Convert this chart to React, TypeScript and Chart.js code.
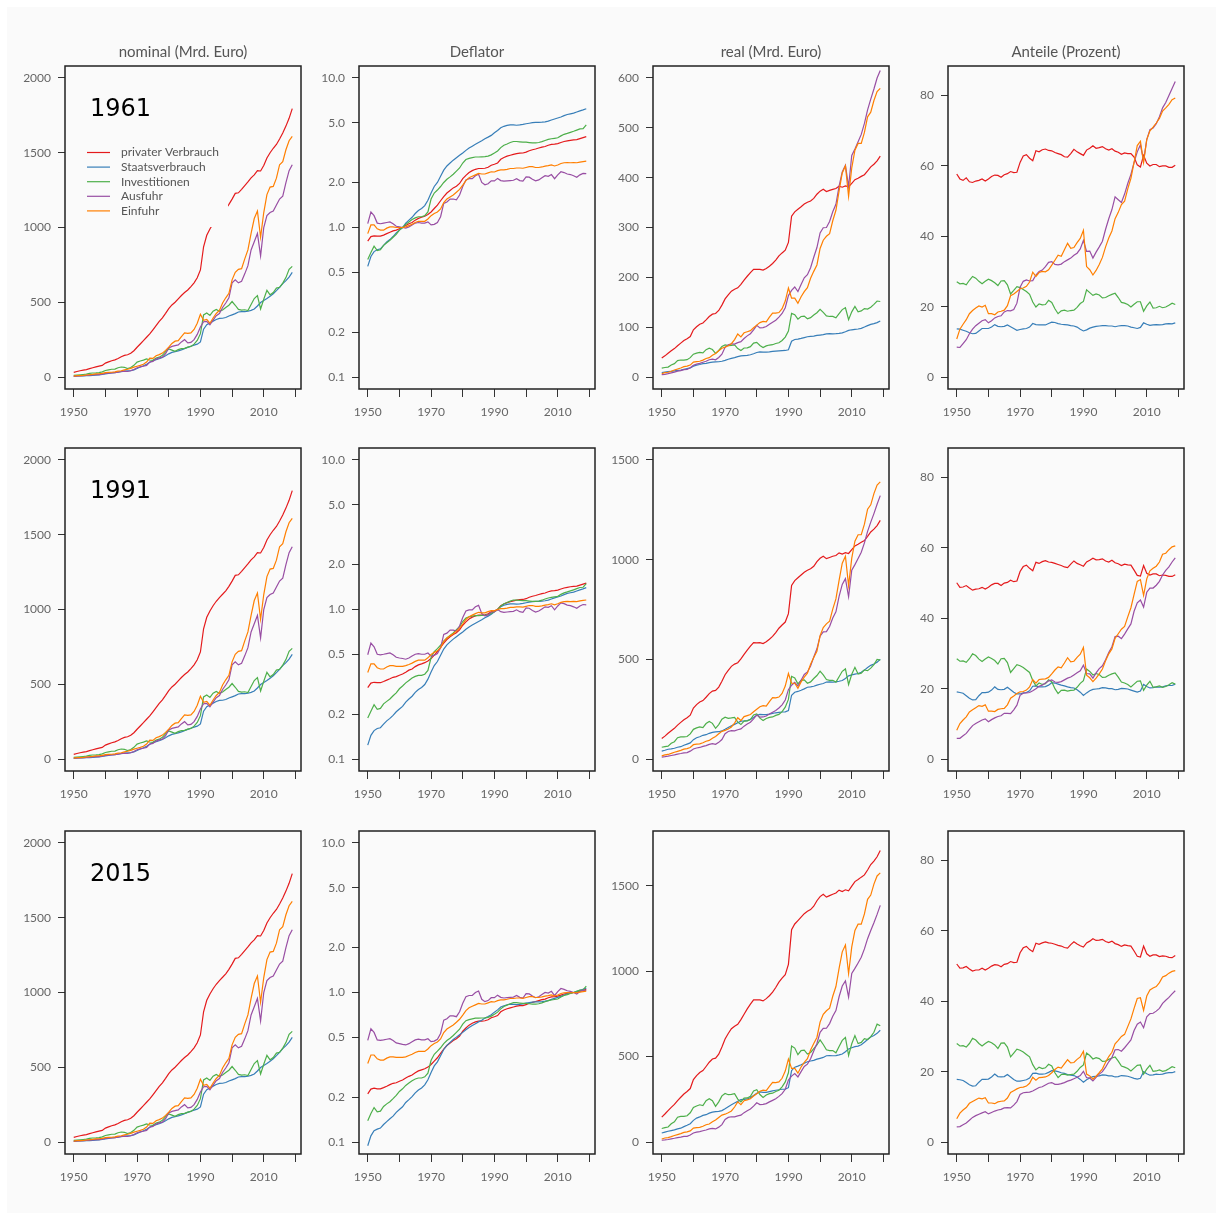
import React, { useEffect, useRef } from "react";
import { Chart, registerables } from "chart.js";

Chart.register(...registerables);

// ---------------- categories / labels ----------------
const YEARS = [
  1950, 1951, 1952, 1953, 1954, 1955, 1956, 1957, 1958, 1959,
  1960, 1961, 1962, 1963, 1964, 1965, 1966, 1967, 1968, 1969,
  1970, 1971, 1972, 1973, 1974, 1975, 1976, 1977, 1978, 1979,
  1980, 1981, 1982, 1983, 1984, 1985, 1986, 1987, 1988, 1989,
  1990, 1991, 1992, 1993, 1994, 1995, 1996, 1997, 1998, 1999,
  2000, 2001, 2002, 2003, 2004, 2005, 2006, 2007, 2008, 2009,
  2010, 2011, 2012, 2013, 2014, 2015, 2016, 2017, 2018, 2019,
];
const SERIES_NAMES = ["privater Verbrauch", "Staatsverbrauch", "Investitionen", "Ausfuhr", "Einfuhr"];
const COL_TITLES = ["nominal (Mrd. Euro)", "Deflator", "real (Mrd. Euro)", "Anteile (Prozent)"];
const BASE_YEARS = ["1961", "1991", "2015"];
const X_TICKS = [1950, 1960, 1970, 1980, 1990, 2000, 2010, 2020];
const X_TICK_LABELS = [1950, 1970, 1990, 2010];
const TICKS_NOMINAL = [0, 500, 1000, 1500, 2000];
const TICKS_DEFLATOR = [0.1, 0.2, 0.5, 1, 2, 5, 10];
const TICKS_REAL_1961 = [0, 100, 200, 300, 400, 500, 600];
const TICKS_REAL_1991 = [0, 500, 1000, 1500];
const TICKS_REAL_2015 = [0, 500, 1000, 1500];
const TICKS_SHARE = [0, 20, 40, 60, 80];

// ---------------- nominal (Mrd. Euro) ----------------
const NOM_PRIV = [
  31, 37, 42, 46, 50, 56, 62, 68, 73, 78,
  93, 101, 109, 115, 124, 136, 145, 149, 159, 176,
  199, 221, 243, 266, 288, 316, 344, 372, 396, 426,
  458, 482, 500, 523, 545, 565, 582, 605, 630, 664,
  716, 871, 948, 990, 1025, 1055, 1080, 1102, 1125, 1155,
  1190, 1228, 1232, 1255, 1280, 1305, 1332, 1352, 1380, 1378,
  1415, 1465, 1500, 1530, 1555, 1592, 1632, 1678, 1730, 1795,
];
const NOM_STAAT = [
  5, 6.4, 7.5, 8.2, 8.8, 10, 11.2, 12.8, 14.6, 16.8,
  21, 24, 27, 30, 32, 36, 39, 41, 43, 48,
  57, 67, 75, 86, 99, 110, 116, 122, 131, 142,
  155, 165, 170, 175, 182, 190, 198, 206, 213, 220,
  235, 320, 350, 362, 374, 385, 392, 393, 398, 408,
  416, 424, 435, 438, 437, 440, 446, 455, 475, 498,
  512, 525, 540, 557, 578, 600, 625, 645, 668, 700,
];
const NOM_INV = [
  11, 13, 15, 17, 19, 25, 27, 28, 30, 35,
  44, 48, 52, 53, 62, 67, 65, 56, 64, 78,
  100, 107, 113, 121, 114, 112, 127, 133, 145, 170,
  188, 180, 172, 183, 190, 192, 200, 205, 220, 245,
  290, 415, 428, 412, 440, 452, 440, 448, 465, 480,
  505, 480, 452, 447, 450, 445, 485, 525, 545, 455,
  520, 580, 550, 565, 595, 600, 628, 665, 720, 740,
];
const NOM_AUS = [
  5, 7, 8, 9, 10.5, 12.5, 14, 16, 16, 19,
  24, 26, 27, 30, 33, 37, 39, 37, 42, 50,
  62, 68, 72, 78, 100, 105, 120, 128, 133, 156,
  195, 205, 210, 215, 235, 250, 228, 232, 250, 285,
  335, 370, 372, 350, 380, 410, 425, 465, 495, 530,
  630, 650, 630, 640, 690, 745, 850, 905, 960, 810,
  1000, 1080, 1100, 1110, 1150, 1190, 1210, 1300, 1380, 1420,
];
const NOM_EIN = [
  6, 9, 10, 11.5, 13.5, 15.5, 18, 21, 22, 24,
  30, 31, 32, 35, 39, 42, 48, 52, 58, 66,
  72, 78, 85, 100, 127, 125, 142, 150, 160, 178,
  200, 225, 240, 243, 270, 295, 292, 295, 318, 360,
  420, 380, 385, 360, 395, 425, 445, 495, 530, 560,
  650, 700, 720, 725, 790, 850, 960, 1060, 1110, 935,
  1100, 1220, 1270, 1275, 1330, 1420, 1440, 1520, 1580, 1610,
];

// ---------------- deflators, base 1961 ----------------
const DEF1961_PRIV = [
  0.81, 0.87, 0.88, 0.875, 0.875, 0.89, 0.91, 0.93, 0.95, 0.96,
  0.98, 1.0, 1.03, 1.06, 1.08, 1.12, 1.15, 1.17, 1.19, 1.22,
  1.27, 1.34, 1.41, 1.51, 1.61, 1.7, 1.77, 1.84, 1.89, 1.97,
  2.12, 2.23, 2.33, 2.4, 2.45, 2.48, 2.48, 2.49, 2.53, 2.61,
  2.65, 2.7, 2.86, 2.94, 3.0, 3.04, 3.08, 3.12, 3.14, 3.15,
  3.19, 3.26, 3.31, 3.35, 3.4, 3.45, 3.48, 3.55, 3.6, 3.61,
  3.64, 3.7, 3.76, 3.8, 3.83, 3.85, 3.87, 3.93, 3.99, 4.05,
];
const DEF1961_STAAT = [
  0.55, 0.64, 0.69, 0.71, 0.72, 0.76, 0.8, 0.83, 0.87, 0.92,
  0.96, 1.0, 1.07, 1.12, 1.17, 1.24, 1.3, 1.34, 1.4, 1.52,
  1.7, 1.88, 2.0, 2.2, 2.42, 2.58, 2.7, 2.82, 2.93, 3.04,
  3.15, 3.28, 3.4, 3.5, 3.6, 3.7, 3.8, 3.92, 4.02, 4.13,
  4.3, 4.45, 4.65, 4.75, 4.82, 4.86, 4.85, 4.83, 4.85, 4.89,
  4.94, 4.98, 5.02, 5.04, 5.04, 5.06, 5.09, 5.14, 5.23, 5.32,
  5.4, 5.48, 5.6, 5.7, 5.76, 5.82, 5.92, 6.02, 6.12, 6.23,
];
const DEF1961_INV = [
  0.61, 0.68, 0.75, 0.7, 0.71, 0.76, 0.79, 0.82, 0.86, 0.9,
  0.96, 1.0, 1.05, 1.09, 1.13, 1.16, 1.18, 1.18, 1.2, 1.27,
  1.55, 1.7, 1.78, 1.88, 2.0, 2.1, 2.18, 2.27, 2.38, 2.5,
  2.7, 2.85, 2.9, 2.93, 2.96, 2.96, 2.97, 2.98, 3.0, 3.06,
  3.15, 3.25, 3.42, 3.55, 3.62, 3.7, 3.76, 3.76, 3.74, 3.72,
  3.72, 3.7, 3.68, 3.68, 3.7, 3.75, 3.82, 3.88, 3.92, 3.95,
  3.98, 4.1, 4.2, 4.26, 4.33, 4.4, 4.48, 4.56, 4.58, 4.85,
];
const DEF1961_AUS = [
  1.06, 1.27, 1.2, 1.07, 1.06, 1.07, 1.08, 1.09, 1.06, 1.02,
  1.01, 1.0, 0.99, 1.01, 1.04, 1.07, 1.08, 1.07, 1.07, 1.09,
  1.04, 1.05, 1.08, 1.18, 1.45, 1.48, 1.55, 1.55, 1.53, 1.65,
  1.88, 2.08, 2.12, 2.12, 2.22, 2.27, 2.0, 1.93, 1.96, 2.05,
  2.05, 2.13, 2.06, 2.04, 2.05, 2.06, 2.07, 2.12, 2.06, 2.04,
  2.18, 2.17, 2.1, 2.05, 2.08, 2.15, 2.22, 2.2, 2.26, 2.12,
  2.25, 2.36, 2.33, 2.28, 2.26, 2.22, 2.17, 2.25, 2.3, 2.29,
];
const DEF1961_EIN = [
  0.91, 1.04, 1.04, 0.98, 0.96, 0.96, 0.99, 1.01, 1.01, 1.0,
  1.0, 1.0, 1.01, 1.03, 1.05, 1.08, 1.1, 1.1, 1.1, 1.14,
  1.2, 1.24, 1.27, 1.33, 1.47, 1.55, 1.6, 1.65, 1.72, 1.8,
  1.92, 2.06, 2.15, 2.2, 2.25, 2.3, 2.28, 2.28, 2.32, 2.36,
  2.35, 2.4, 2.43, 2.43, 2.45, 2.48, 2.48, 2.5, 2.5, 2.49,
  2.52, 2.55, 2.55, 2.52, 2.52, 2.54, 2.57, 2.59, 2.62, 2.58,
  2.62, 2.68, 2.71, 2.72, 2.71, 2.72, 2.71, 2.74, 2.76, 2.78,
];

// ---------------- deflators, base 1991 ----------------
const DEF1991_PRIV = [
  0.3, 0.322, 0.326, 0.324, 0.324, 0.33, 0.337, 0.344, 0.352, 0.356,
  0.363, 0.37, 0.381, 0.393, 0.4, 0.415, 0.426, 0.433, 0.441, 0.452,
  0.47, 0.496, 0.522, 0.559, 0.596, 0.63, 0.656, 0.681, 0.7, 0.73,
  0.785, 0.826, 0.863, 0.889, 0.907, 0.919, 0.919, 0.922, 0.937, 0.967,
  0.981, 1.0, 1.059, 1.089, 1.111, 1.126, 1.141, 1.156, 1.163, 1.167,
  1.181, 1.207, 1.226, 1.241, 1.259, 1.278, 1.289, 1.315, 1.333, 1.337,
  1.348, 1.37, 1.393, 1.407, 1.419, 1.426, 1.433, 1.456, 1.478, 1.5,
];
const DEF1991_STAAT = [
  0.124, 0.144, 0.155, 0.16, 0.162, 0.171, 0.18, 0.187, 0.196, 0.207,
  0.216, 0.225, 0.24, 0.252, 0.263, 0.279, 0.292, 0.301, 0.315, 0.342,
  0.382, 0.422, 0.449, 0.494, 0.544, 0.58, 0.607, 0.634, 0.658, 0.683,
  0.708, 0.737, 0.764, 0.787, 0.809, 0.831, 0.854, 0.881, 0.903, 0.928,
  0.966, 1.0, 1.045, 1.067, 1.083, 1.092, 1.09, 1.085, 1.09, 1.099,
  1.11, 1.119, 1.128, 1.133, 1.133, 1.137, 1.144, 1.155, 1.175, 1.196,
  1.213, 1.231, 1.258, 1.281, 1.294, 1.308, 1.33, 1.353, 1.375, 1.4,
];
const DEF1991_INV = [
  0.188, 0.209, 0.231, 0.215, 0.218, 0.234, 0.243, 0.252, 0.265, 0.277,
  0.295, 0.308, 0.323, 0.335, 0.348, 0.357, 0.363, 0.363, 0.369, 0.391,
  0.477, 0.523, 0.548, 0.578, 0.615, 0.646, 0.671, 0.698, 0.732, 0.769,
  0.831, 0.877, 0.892, 0.902, 0.911, 0.911, 0.914, 0.917, 0.923, 0.942,
  0.969, 1.0, 1.052, 1.092, 1.114, 1.138, 1.157, 1.157, 1.151, 1.145,
  1.145, 1.138, 1.132, 1.132, 1.138, 1.154, 1.175, 1.194, 1.206, 1.215,
  1.225, 1.262, 1.292, 1.311, 1.332, 1.354, 1.378, 1.403, 1.409, 1.492,
];
const DEF1991_AUS = [
  0.498, 0.596, 0.563, 0.502, 0.498, 0.502, 0.507, 0.512, 0.498, 0.479,
  0.474, 0.47, 0.465, 0.474, 0.488, 0.502, 0.507, 0.502, 0.502, 0.512,
  0.488, 0.493, 0.507, 0.554, 0.681, 0.695, 0.728, 0.728, 0.718, 0.775,
  0.883, 0.977, 0.995, 0.995, 1.042, 1.066, 0.939, 0.906, 0.92, 0.962,
  0.962, 1.0, 0.967, 0.958, 0.962, 0.967, 0.972, 0.995, 0.967, 0.958,
  1.024, 1.019, 0.986, 0.962, 0.977, 1.009, 1.042, 1.033, 1.061, 0.995,
  1.056, 1.108, 1.094, 1.07, 1.061, 1.042, 1.019, 1.056, 1.08, 1.075,
];
const DEF1991_EIN = [
  0.379, 0.433, 0.433, 0.408, 0.4, 0.4, 0.413, 0.421, 0.421, 0.417,
  0.417, 0.417, 0.421, 0.429, 0.438, 0.45, 0.458, 0.458, 0.458, 0.475,
  0.5, 0.517, 0.529, 0.554, 0.613, 0.646, 0.667, 0.688, 0.717, 0.75,
  0.8, 0.858, 0.896, 0.917, 0.938, 0.958, 0.95, 0.95, 0.967, 0.983,
  0.979, 1.0, 1.013, 1.013, 1.021, 1.033, 1.033, 1.042, 1.042, 1.038,
  1.05, 1.063, 1.063, 1.05, 1.05, 1.058, 1.071, 1.079, 1.092, 1.075,
  1.092, 1.117, 1.129, 1.133, 1.129, 1.133, 1.129, 1.142, 1.15, 1.158,
];

// ---------------- deflators, base 2015 ----------------
const DEF2015_PRIV = [
  0.21, 0.226, 0.229, 0.227, 0.227, 0.231, 0.236, 0.242, 0.247, 0.249,
  0.255, 0.26, 0.268, 0.275, 0.281, 0.291, 0.299, 0.304, 0.309, 0.317,
  0.33, 0.348, 0.366, 0.392, 0.418, 0.442, 0.46, 0.478, 0.491, 0.512,
  0.551, 0.579, 0.605, 0.623, 0.636, 0.644, 0.644, 0.647, 0.657, 0.678,
  0.688, 0.701, 0.743, 0.764, 0.779, 0.79, 0.8, 0.81, 0.816, 0.818,
  0.829, 0.847, 0.86, 0.87, 0.883, 0.896, 0.904, 0.922, 0.935, 0.938,
  0.945, 0.961, 0.977, 0.987, 0.995, 1.0, 1.005, 1.021, 1.036, 1.052,
];
const DEF2015_STAAT = [
  0.0945, 0.11, 0.119, 0.122, 0.124, 0.131, 0.137, 0.143, 0.149, 0.158,
  0.165, 0.172, 0.184, 0.192, 0.201, 0.213, 0.223, 0.23, 0.241, 0.261,
  0.292, 0.323, 0.344, 0.378, 0.416, 0.443, 0.464, 0.485, 0.503, 0.522,
  0.541, 0.564, 0.584, 0.601, 0.619, 0.636, 0.653, 0.674, 0.691, 0.71,
  0.739, 0.765, 0.799, 0.816, 0.828, 0.835, 0.833, 0.83, 0.833, 0.84,
  0.849, 0.856, 0.863, 0.866, 0.866, 0.869, 0.875, 0.883, 0.899, 0.914,
  0.928, 0.942, 0.962, 0.979, 0.99, 1.0, 1.017, 1.034, 1.052, 1.07,
];
const DEF2015_INV = [
  0.139, 0.155, 0.17, 0.159, 0.161, 0.173, 0.18, 0.186, 0.195, 0.205,
  0.218, 0.227, 0.239, 0.248, 0.257, 0.264, 0.268, 0.268, 0.273, 0.289,
  0.352, 0.386, 0.405, 0.427, 0.455, 0.477, 0.495, 0.516, 0.541, 0.568,
  0.614, 0.648, 0.659, 0.666, 0.673, 0.673, 0.675, 0.677, 0.682, 0.695,
  0.716, 0.739, 0.777, 0.807, 0.823, 0.841, 0.855, 0.855, 0.85, 0.845,
  0.845, 0.841, 0.836, 0.836, 0.841, 0.852, 0.868, 0.882, 0.891, 0.898,
  0.905, 0.932, 0.955, 0.968, 0.984, 1.0, 1.018, 1.036, 1.041, 1.102,
];
const DEF2015_AUS = [
  0.478, 0.572, 0.541, 0.482, 0.478, 0.482, 0.487, 0.491, 0.478, 0.46,
  0.455, 0.45, 0.446, 0.455, 0.469, 0.482, 0.487, 0.482, 0.482, 0.491,
  0.469, 0.473, 0.487, 0.532, 0.653, 0.667, 0.698, 0.698, 0.689, 0.743,
  0.847, 0.937, 0.955, 0.955, 1.0, 1.023, 0.901, 0.869, 0.883, 0.923,
  0.923, 0.96, 0.928, 0.919, 0.923, 0.928, 0.932, 0.955, 0.928, 0.919,
  0.982, 0.978, 0.946, 0.923, 0.937, 0.969, 1.0, 0.991, 1.018, 0.955,
  1.014, 1.063, 1.05, 1.027, 1.018, 1.0, 0.978, 1.014, 1.036, 1.032,
];
const DEF2015_EIN = [
  0.335, 0.382, 0.382, 0.36, 0.353, 0.353, 0.364, 0.371, 0.371, 0.368,
  0.368, 0.368, 0.371, 0.379, 0.386, 0.397, 0.404, 0.404, 0.404, 0.419,
  0.441, 0.456, 0.467, 0.489, 0.54, 0.57, 0.588, 0.607, 0.632, 0.662,
  0.706, 0.757, 0.79, 0.809, 0.827, 0.846, 0.838, 0.838, 0.853, 0.868,
  0.864, 0.882, 0.893, 0.893, 0.901, 0.912, 0.912, 0.919, 0.919, 0.915,
  0.926, 0.938, 0.938, 0.926, 0.926, 0.934, 0.945, 0.952, 0.963, 0.948,
  0.963, 0.985, 0.996, 1.0, 0.996, 1.0, 0.996, 1.007, 1.015, 1.022,
];

// ---------------- real, prices of 1961 ----------------
const REAL1961_PRIV = [
  38, 42.5, 47.7, 52.6, 57.1, 62.9, 68.1, 73.1, 76.8, 81.3,
  94.9, 101, 105.8, 108.5, 114.8, 121.4, 126.1, 127.4, 133.6, 144.3,
  156.7, 164.9, 172.3, 176.2, 178.9, 185.9, 194.4, 202.2, 209.5, 216.2,
  216, 216.1, 214.6, 217.9, 222.4, 227.8, 234.7, 243, 249, 254.4,
  270, 322.6, 331.5, 336.7, 341.7, 347, 350.6, 353.2, 358.3, 366.7,
  373, 376.7, 372.2, 374.6, 376.5, 378.3, 382.8, 380.8, 383.3, 381.7,
  388.7, 395.9, 398.9, 402.6, 406, 413.5, 421.7, 427, 433.6, 443.2,
];
const REAL1961_STAAT = [
  9.1, 10, 10.9, 11.5, 12.2, 13.2, 14, 15.4, 16.8, 18.3,
  21.9, 24, 25.2, 26.8, 27.4, 29, 30, 30.6, 30.7, 31.6,
  33.5, 35.6, 37.5, 39.1, 40.9, 42.6, 43, 43.3, 44.7, 46.7,
  49.2, 50.3, 50, 50, 50.6, 51.4, 52.1, 52.6, 53, 53.3,
  54.7, 71.9, 75.3, 76.2, 77.6, 79.2, 80.8, 81.4, 82.1, 83.4,
  84.2, 85.1, 86.7, 86.9, 86.7, 87, 87.6, 88.5, 90.8, 93.6,
  94.8, 95.8, 96.4, 97.7, 100.3, 103.1, 105.6, 107.1, 109.2, 112.4,
];
const REAL1961_INV = [
  18, 19.1, 20, 24.3, 26.8, 32.9, 34.2, 34.1, 34.9, 38.9,
  45.8, 48, 49.5, 48.6, 54.9, 57.8, 55.1, 47.5, 53.3, 61.4,
  64.5, 62.9, 63.5, 64.4, 57, 53.3, 58.3, 58.6, 60.9, 68,
  69.6, 63.2, 59.3, 62.5, 64.2, 64.9, 67.3, 68.8, 73.3, 80.1,
  92.1, 127.7, 125.1, 116.1, 121.5, 122.2, 117, 119.1, 124.3, 129,
  135.8, 129.7, 122.8, 121.5, 121.6, 118.7, 127, 135.3, 139, 115.2,
  130.7, 141.5, 131, 132.6, 137.4, 136.4, 140.2, 145.8, 152.5, 151.6,
];
const REAL1961_AUS = [
  4.7, 5.5, 6.7, 8.4, 9.9, 11.7, 13, 14.7, 15.1, 18.6,
  23.8, 26, 27.3, 29.7, 31.7, 34.6, 36.1, 34.6, 39.3, 45.9,
  59.6, 64.8, 66.7, 66.1, 69, 70.9, 77.4, 82.6, 86.9, 94.5,
  103.7, 98.6, 99.1, 101.4, 105.9, 110.1, 114, 120.2, 127.6, 139,
  163.4, 173.7, 180.6, 171.6, 185.4, 199, 205.3, 219.3, 240.3, 259.8,
  289, 299.5, 300, 312.2, 331.7, 346.5, 382.9, 411.4, 424.8, 382.1,
  444.4, 457.6, 472.1, 486.8, 508.8, 536, 557.6, 577.8, 600, 615,
];
const REAL1961_EIN = [
  6.6, 8.7, 9.6, 11.7, 14.1, 16.1, 18.2, 20.8, 21.8, 24,
  30, 31, 31.7, 34, 37.1, 38.9, 43.6, 47.3, 52.7, 57.9,
  60, 62.9, 66.9, 75.2, 86.4, 80.6, 88.8, 90.9, 93, 98.9,
  104.2, 109.2, 111.6, 110.5, 120, 128.3, 128.1, 129.4, 137.1, 152.5,
  178.7, 158.3, 158.4, 148.1, 161.2, 171.4, 179.4, 198, 212, 224.9,
  257.9, 274.5, 282.4, 287.7, 313.5, 334.6, 373.5, 409.3, 423.7, 362.4,
  419.8, 455.2, 468.6, 468.8, 490.8, 522.1, 531.4, 554.7, 572.5, 579.1,
];

// ---------------- real, prices of 1991 ----------------
const REAL1991_PRIV = [
  103, 115, 129, 142, 154, 170, 184, 197, 207, 220,
  256, 273, 286, 293, 310, 328, 341, 344, 361, 390,
  423, 445, 465, 476, 483, 502, 525, 546, 566, 584,
  583, 584, 579, 588, 601, 615, 634, 656, 672, 687,
  729, 871, 895, 909, 923, 937, 947, 954, 967, 990,
  1007, 1017, 1005, 1011, 1017, 1021, 1034, 1028, 1035, 1031,
  1050, 1069, 1077, 1087, 1096, 1117, 1139, 1153, 1171, 1197,
];
const REAL1991_STAAT = [
  40, 44, 49, 51, 54, 59, 62, 69, 75, 81,
  97, 107, 112, 119, 122, 129, 134, 136, 137, 141,
  149, 158, 167, 174, 182, 190, 191, 193, 199, 208,
  219, 224, 223, 223, 225, 229, 232, 234, 236, 237,
  243, 320, 335, 339, 345, 352, 360, 362, 365, 371,
  375, 379, 386, 387, 386, 387, 390, 394, 404, 417,
  422, 426, 429, 435, 446, 459, 470, 477, 486, 500,
];
const REAL1991_INV = [
  59, 62, 65, 79, 87, 107, 111, 111, 113, 126,
  149, 156, 161, 158, 178, 188, 179, 154, 173, 200,
  210, 204, 206, 209, 185, 173, 190, 191, 198, 221,
  226, 205, 193, 203, 209, 211, 219, 224, 238, 260,
  299, 415, 407, 377, 395, 397, 380, 387, 404, 419,
  441, 422, 399, 395, 395, 386, 413, 440, 452, 374,
  425, 460, 426, 431, 447, 443, 456, 474, 500, 496,
];
const REAL1991_AUS = [
  10, 11.7, 14.3, 17.9, 21.1, 24.9, 27.7, 31.3, 32.2, 39.6,
  50.7, 55.4, 58.1, 63.3, 67.5, 73.7, 76.9, 73.7, 83.7, 97.8,
  127, 138, 142, 141, 147, 151, 165, 176, 185, 201,
  221, 210, 211, 216, 226, 235, 243, 256, 272, 296,
  348, 370, 385, 366, 395, 424, 437, 467, 512, 553,
  616, 638, 639, 665, 707, 738, 816, 876, 905, 814,
  947, 975, 1006, 1037, 1084, 1142, 1188, 1231, 1278, 1321,
];
const REAL1991_EIN = [
  15.8, 20.9, 23, 28.1, 33.8, 38.6, 43.7, 49.9, 52.3, 57.6,
  72, 74.4, 76.1, 81.6, 89, 93.4, 104.6, 113.5, 126.5, 139,
  144, 151, 161, 180, 207, 193, 213, 218, 223, 237,
  250, 262, 268, 265, 288, 308, 307, 311, 329, 366,
  429, 380, 380, 355, 387, 411, 431, 475, 509, 540,
  619, 659, 678, 691, 752, 803, 896, 982, 1017, 870,
  1008, 1093, 1125, 1125, 1178, 1253, 1275, 1331, 1374, 1390,
];

// ---------------- real, prices of 2015 ----------------
const REAL2015_PRIV = [
  146, 164, 184, 203, 220, 242, 262, 281, 296, 313,
  365, 389, 407, 418, 442, 467, 486, 491, 514, 556,
  603, 635, 663, 678, 689, 716, 748, 779, 807, 832,
  832, 832, 826, 839, 856, 877, 904, 936, 959, 979,
  1040, 1242, 1276, 1296, 1316, 1336, 1350, 1360, 1380, 1412,
  1436, 1450, 1433, 1442, 1450, 1457, 1474, 1466, 1476, 1470,
  1497, 1524, 1536, 1550, 1563, 1592, 1624, 1644, 1669, 1706,
];
const REAL2015_STAAT = [
  53, 58, 63, 67, 71, 77, 81, 90, 98, 107,
  127, 140, 147, 156, 160, 169, 175, 178, 179, 184,
  195, 207, 218, 228, 238, 248, 250, 252, 260, 272,
  286, 293, 291, 291, 295, 299, 303, 306, 309, 310,
  318, 418, 438, 444, 452, 461, 470, 474, 478, 485,
  490, 495, 505, 506, 505, 506, 510, 515, 528, 545,
  552, 558, 561, 569, 584, 600, 615, 623, 636, 654,
];
const REAL2015_INV = [
  79, 84, 88, 107, 118, 145, 150, 150, 154, 171,
  202, 211, 218, 214, 242, 254, 242, 209, 235, 270,
  284, 277, 279, 283, 251, 235, 257, 258, 268, 299,
  306, 278, 261, 275, 283, 286, 296, 303, 323, 352,
  405, 562, 550, 511, 535, 538, 515, 524, 547, 568,
  598, 571, 540, 535, 535, 522, 559, 595, 612, 507,
  575, 623, 576, 583, 605, 600, 617, 642, 690, 680,
];
const REAL2015_AUS = [
  10.4, 12.2, 14.9, 18.6, 22, 26, 28.9, 32.6, 33.5, 41.3,
  52.8, 57.7, 60.6, 65.9, 70.4, 76.8, 80.1, 76.8, 87.2, 101.9,
  132, 144, 148, 147, 153, 157, 172, 183, 193, 210,
  230, 219, 220, 225, 235, 244, 253, 267, 283, 309,
  363, 386, 401, 381, 412, 442, 456, 487, 533, 577,
  642, 665, 666, 693, 736, 769, 850, 913, 943, 848,
  987, 1016, 1048, 1081, 1130, 1190, 1238, 1283, 1332, 1385,
];
const REAL2015_EIN = [
  18, 23.7, 26.1, 31.8, 38.4, 43.8, 49.5, 56.6, 59.3, 65.3,
  81.6, 84.3, 86.2, 92.5, 100.9, 105.8, 118.6, 128.7, 143.3, 157.5,
  163, 171, 182, 205, 235, 219, 242, 247, 253, 269,
  283, 297, 304, 301, 326, 349, 348, 352, 373, 415,
  486, 431, 431, 403, 439, 466, 488, 539, 577, 612,
  702, 747, 768, 783, 853, 910, 1016, 1113, 1153, 986,
  1142, 1238, 1275, 1275, 1335, 1420, 1445, 1509, 1557, 1575,
];

// ---------------- shares (percent), prices of 1961 ----------------
const SHARE1961_PRIV = [
  57.7, 56.3, 55.9, 56.6, 55.5, 55.3, 55.7, 55.9, 56.3, 55.7,
  56.3, 57.0, 57.4, 57.3, 56.8, 57.5, 57.8, 58.4, 58.1, 58.2,
  61.0, 62.8, 63.2, 62.2, 61.5, 64.3, 64.0, 64.6, 64.8, 64.4,
  64.3, 63.8, 63.5, 63.2, 62.6, 62.5, 63.5, 64.7, 64.0, 63.5,
  63.0, 64.5, 65.0, 65.7, 65.0, 65.2, 65.5, 64.9, 64.5, 64.9,
  64.2, 63.9, 63.3, 63.7, 63.5, 63.5, 62.5, 60.3, 59.7, 63.0,
  60.8, 60.0, 60.4, 60.4, 59.8, 60.0, 60.0, 59.6, 59.6, 60.2,
];
const SHARE1961_STAAT = [
  13.7, 13.6, 13.3, 13.0, 12.6, 12.3, 12.4, 13.1, 13.8, 13.8,
  13.8, 14.2, 14.9, 14.4, 14.3, 14.4, 14.8, 14.3, 13.8, 13.3,
  13.5, 13.7, 13.8, 14.2, 15.2, 14.9, 14.8, 14.8, 14.8, 15.2,
  15.6, 15.5, 15.2, 15.0, 14.9, 14.8, 14.6, 14.5, 14.2, 13.6,
  13.1, 13.4, 13.9, 14.2, 14.4, 14.5, 14.6, 14.6, 14.5, 14.5,
  14.3, 14.5, 14.6, 14.6, 14.5, 14.2, 14.0, 13.8, 14.1, 15.4,
  15.0, 14.7, 14.8, 14.9, 14.8, 14.9, 15.1, 15.2, 15.1, 15.4,
];
const SHARE1961_INV = [
  27.1, 26.5, 26.6, 26.2, 27.5, 28.6, 28.1, 27.2, 26.5, 27.2,
  27.8, 27.4, 26.8, 26.0, 27.3, 27.4, 26.2, 23.6, 24.6, 25.7,
  25.4, 24.9, 24.3, 23.5, 21.3, 19.9, 20.8, 20.5, 20.6, 21.8,
  21.2, 19.4, 18.0, 18.8, 19.0, 18.7, 18.9, 19.0, 19.8, 20.9,
  21.5, 24.8, 24.0, 23.2, 23.6, 23.3, 22.5, 22.6, 23.1, 23.5,
  23.8, 22.6, 21.2, 21.0, 20.6, 19.9, 20.7, 21.4, 21.4, 18.7,
  20.2, 21.3, 19.6, 19.7, 20.1, 19.7, 19.9, 20.4, 21.0, 20.6,
];
const SHARE1961_AUS = [
  8.5, 8.4, 9.5, 10.6, 12.3, 13.6, 14.6, 15.3, 16.0, 16.3,
  15.4, 16.0, 16.8, 17.2, 17.4, 18.5, 18.9, 18.8, 19.2, 21.0,
  25.5, 27.2, 27.6, 27.3, 27.4, 29.0, 30.0, 30.4, 31.4, 32.6,
  32.8, 32.0, 31.9, 32.1, 32.8, 33.3, 33.8, 34.6, 35.2, 36.4,
  38.8, 35.7, 35.8, 33.8, 35.5, 37.0, 38.6, 42.0, 45.0, 47.6,
  51.2, 50.4, 49.6, 52.0, 55.0, 57.6, 61.0, 64.0, 66.0, 61.5,
  67.5, 70.3, 70.8, 72.0, 74.0, 76.5, 78.0, 80.0, 82.0, 84.0,
];
const SHARE1961_EIN = [
  10.8, 13.6, 15.0, 16.3, 18.0, 18.9, 19.6, 20.2, 19.9, 20.4,
  18.0, 18.0, 17.7, 18.5, 18.7, 19.0, 20.3, 23.1, 23.6, 24.3,
  25.1, 25.3, 25.8, 27.0, 29.8, 28.6, 29.7, 30.0, 29.9, 30.5,
  31.8, 33.2, 34.6, 34.3, 36.2, 38.0, 36.6, 36.8, 38.2, 39.4,
  41.7, 31.4, 30.5, 29.0, 30.3, 32.0, 34.0, 37.0, 39.5, 41.5,
  45.0, 46.8, 49.0, 50.0, 53.5, 56.5, 61.0, 65.8, 67.0, 61.0,
  67.5, 70.0, 71.0, 72.2, 73.5, 75.6, 76.5, 77.5, 78.8, 79.3,
];

// ---------------- shares (percent), prices of 1991 ----------------
const SHARE1991_PRIV = [
  50.1, 48.8, 48.9, 49.3, 48.6, 48.0, 48.3, 48.4, 48.8, 48.3,
  48.8, 49.5, 49.9, 49.9, 49.3, 50.0, 50.2, 50.8, 50.4, 50.6,
  53.3, 54.7, 55.1, 54.2, 53.5, 55.9, 55.6, 56.1, 56.4, 56.0,
  55.9, 55.6, 55.3, 55.0, 54.6, 54.4, 55.4, 56.3, 55.6, 55.2,
  54.8, 56.0, 56.5, 57.1, 56.6, 56.7, 56.9, 56.3, 56.0, 56.5,
  55.8, 55.5, 55.0, 55.4, 55.2, 55.1, 53.7, 52.2, 52.0, 55.0,
  52.8, 52.3, 52.6, 52.6, 52.1, 52.3, 52.2, 51.9, 51.9, 52.4,
];
const SHARE1991_STAAT = [
  19.1, 18.9, 18.7, 18.0, 17.3, 16.8, 16.9, 18.0, 18.9, 18.9,
  19.0, 19.6, 20.5, 19.8, 19.7, 19.8, 20.4, 19.7, 19.0, 18.5,
  18.5, 18.8, 18.9, 19.4, 20.7, 20.8, 20.5, 20.5, 20.6, 21.0,
  21.7, 21.6, 21.3, 21.0, 20.8, 20.5, 20.3, 20.2, 19.7, 19.0,
  18.1, 18.8, 19.4, 19.8, 19.9, 20.0, 20.3, 20.2, 20.0, 20.0,
  19.7, 19.8, 20.1, 20.0, 19.9, 19.6, 19.3, 19.0, 19.3, 21.2,
  20.6, 20.2, 20.3, 20.5, 20.4, 20.5, 20.8, 20.9, 20.9, 21.3,
];
const SHARE1991_INV = [
  28.5, 27.8, 27.9, 27.5, 28.5, 29.9, 29.4, 28.4, 27.7, 28.4,
  29.0, 28.6, 28.0, 27.0, 28.5, 28.6, 27.4, 24.6, 25.7, 26.8,
  26.5, 26.0, 25.3, 24.6, 22.3, 20.8, 21.6, 21.2, 21.4, 22.5,
  22.0, 20.0, 18.6, 19.5, 19.6, 19.3, 19.5, 19.6, 20.4, 21.5,
  22.3, 25.6, 24.9, 23.9, 24.3, 24.0, 23.2, 23.3, 23.8, 24.2,
  24.5, 23.3, 21.9, 21.6, 21.2, 20.5, 21.3, 22.1, 22.2, 19.5,
  21.0, 22.1, 20.4, 20.5, 20.8, 20.4, 20.6, 21.1, 21.7, 21.3,
];
const SHARE1991_AUS = [
  5.9, 5.9, 6.6, 7.3, 8.4, 9.5, 10.1, 10.6, 11.1, 11.4,
  10.6, 11.2, 11.7, 12.1, 12.3, 13.0, 13.0, 12.9, 14.0, 15.3,
  18.1, 18.7, 18.8, 18.9, 19.4, 20.0, 20.7, 21.0, 21.6, 22.2,
  22.5, 21.9, 21.8, 22.0, 22.5, 23.0, 23.3, 23.9, 24.5, 25.1,
  26.7, 24.3, 24.2, 23.0, 24.5, 25.7, 26.5, 28.2, 30.3, 31.9,
  34.8, 34.9, 34.2, 35.5, 37.0, 38.4, 42.0, 44.4, 45.2, 43.2,
  47.4, 48.6, 48.6, 49.4, 50.5, 52.3, 53.6, 54.6, 56.0, 57.2,
];
const SHARE1991_EIN = [
  8.2, 10.1, 11.1, 12.0, 13.4, 14.0, 14.6, 15.2, 15.0, 15.4,
  13.6, 13.6, 13.5, 14.1, 14.3, 14.4, 15.4, 17.3, 17.9, 18.6,
  19.1, 19.2, 19.6, 20.5, 22.6, 21.6, 22.6, 22.7, 22.8, 23.2,
  24.2, 25.3, 26.2, 25.9, 27.3, 28.8, 27.6, 27.8, 28.9, 29.8,
  31.7, 23.8, 23.1, 22.0, 23.0, 24.2, 25.6, 27.9, 29.9, 31.3,
  34.3, 35.6, 36.9, 37.7, 40.4, 43.0, 46.8, 50.5, 51.0, 46.5,
  51.2, 53.5, 54.2, 54.8, 56.0, 58.2, 58.5, 59.5, 60.3, 60.6,
];

// ---------------- shares (percent), prices of 2015 ----------------
const SHARE2015_PRIV = [
  50.6, 49.4, 49.5, 49.9, 49.2, 48.6, 48.9, 48.9, 49.4, 48.9,
  49.4, 50.0, 50.4, 50.3, 49.8, 50.5, 50.7, 51.3, 51.0, 51.1,
  53.8, 55.2, 55.6, 54.7, 54.1, 56.5, 56.2, 56.6, 56.9, 56.6,
  56.5, 56.2, 55.9, 55.7, 55.3, 55.1, 56.1, 56.9, 56.3, 55.8,
  55.4, 56.6, 57.1, 57.8, 57.3, 57.4, 57.6, 57.0, 56.7, 57.1,
  56.4, 56.1, 55.6, 56.0, 55.8, 55.7, 54.3, 52.8, 52.6, 55.7,
  53.5, 52.8, 53.2, 53.2, 52.7, 52.9, 52.8, 52.5, 52.4, 53.0,
];
const SHARE2015_STAAT = [
  17.8, 17.7, 17.5, 16.9, 16.3, 15.9, 16.0, 17.0, 17.8, 17.8,
  17.9, 18.5, 19.3, 18.6, 18.5, 18.6, 19.2, 18.5, 17.8, 17.3,
  17.3, 17.5, 17.7, 18.2, 19.5, 19.6, 19.3, 19.3, 19.4, 19.8,
  20.3, 20.2, 20.0, 19.7, 19.5, 19.2, 19.0, 18.9, 18.5, 17.8,
  17.0, 17.7, 18.2, 18.6, 18.7, 18.8, 19.1, 19.0, 18.8, 18.8,
  18.5, 18.6, 18.9, 18.8, 18.7, 18.4, 18.1, 17.9, 18.1, 20.0,
  19.4, 19.0, 19.1, 19.3, 19.2, 19.3, 19.6, 19.7, 19.7, 20.0,
];
const SHARE2015_INV = [
  28.0, 27.3, 27.4, 27.0, 28.0, 29.5, 29.0, 28.0, 27.3, 28.0,
  28.6, 28.2, 27.6, 26.6, 28.1, 28.2, 27.0, 24.2, 25.3, 26.4,
  26.1, 25.6, 24.9, 24.2, 22.0, 20.5, 21.3, 20.9, 21.1, 22.1,
  21.6, 19.7, 18.3, 19.2, 19.3, 19.0, 19.2, 19.3, 20.1, 21.2,
  21.9, 25.3, 24.6, 23.6, 24.0, 23.7, 22.9, 23.0, 23.5, 23.9,
  24.2, 23.0, 21.6, 21.3, 20.9, 20.2, 21.0, 21.8, 21.9, 19.3,
  20.7, 21.8, 20.1, 20.2, 20.5, 20.1, 20.3, 20.8, 21.4, 21.1,
];
const SHARE2015_AUS = [
  4.3, 4.4, 4.9, 5.4, 6.2, 7.0, 7.5, 7.9, 8.3, 8.6,
  8.0, 8.4, 8.8, 9.1, 9.3, 9.7, 9.8, 9.7, 10.5, 11.5,
  13.5, 14.0, 14.1, 14.2, 14.5, 15.0, 15.5, 15.7, 16.2, 16.7,
  16.9, 16.4, 16.4, 16.6, 16.9, 17.3, 17.6, 18.0, 18.4, 18.9,
  20.1, 18.3, 18.2, 17.4, 18.4, 19.3, 20.0, 21.3, 22.8, 24.0,
  26.2, 26.3, 25.8, 26.8, 27.9, 29.0, 31.7, 33.5, 34.1, 32.5,
  35.6, 36.5, 36.6, 37.2, 38.0, 39.4, 40.3, 41.1, 42.1, 43.0,
];
const SHARE2015_EIN = [
  6.6, 8.2, 9.1, 9.8, 11.0, 11.5, 12.0, 12.5, 12.3, 12.6,
  11.1, 11.1, 10.9, 11.4, 11.6, 11.7, 12.5, 14.1, 14.6, 15.1,
  15.5, 15.6, 15.9, 16.7, 18.4, 17.6, 18.3, 18.4, 18.5, 18.9,
  19.7, 20.6, 21.3, 21.0, 22.2, 23.4, 22.5, 22.6, 23.5, 24.2,
  25.8, 19.3, 18.8, 17.9, 18.7, 19.7, 20.8, 22.7, 24.3, 25.5,
  27.9, 28.9, 30.0, 30.6, 32.8, 35.0, 38.0, 40.8, 41.0, 37.4,
  41.5, 43.2, 43.8, 44.2, 45.3, 46.9, 47.3, 48.0, 48.5, 48.7,
];

// ---------------- styling ----------------
const COLORS = ["#e41a1c", "#377eb8", "#4daf4a", "#984ea3", "#ff7f00"];
const BG = "#fafafa";
const FONT = "Lato, 'Noto Sans', sans-serif";
const BOX_LEFT = [65, 359, 653, 948];
const BOX_TOP = [66, 448, 831];
const BOX_W = 236;
const BOX_H = 323;
const PAD_L = 60;
const PAD_T = 40;
const PAD_R = 12;
const PAD_B = 40;
const X_MIN = 1947.24;
const X_MAX = 2021.76;

type Spec = {
  row: number;
  col: number;
  series: number[][];
  log?: boolean;
  yMin: number;
  yMax: number;
  yTicks: number[];
};

function linExt(lo: number, hi: number): [number, number] {
  const d = (hi - lo) * 0.04;
  return [lo - d, hi + d];
}

const LOG_MIN = Math.pow(10, -1.08);
const LOG_MAX = Math.pow(10, 1.08);

const ROWS = [
  {
    nominal: [NOM_PRIV, NOM_STAAT, NOM_INV, NOM_AUS, NOM_EIN],
    defl: [DEF1961_PRIV, DEF1961_STAAT, DEF1961_INV, DEF1961_AUS, DEF1961_EIN],
    real: [REAL1961_PRIV, REAL1961_STAAT, REAL1961_INV, REAL1961_AUS, REAL1961_EIN],
    share: [SHARE1961_PRIV, SHARE1961_STAAT, SHARE1961_INV, SHARE1961_AUS, SHARE1961_EIN],
    realTop: 600,
    realTicks: TICKS_REAL_1961,
  },
  {
    nominal: [NOM_PRIV, NOM_STAAT, NOM_INV, NOM_AUS, NOM_EIN],
    defl: [DEF1991_PRIV, DEF1991_STAAT, DEF1991_INV, DEF1991_AUS, DEF1991_EIN],
    real: [REAL1991_PRIV, REAL1991_STAAT, REAL1991_INV, REAL1991_AUS, REAL1991_EIN],
    share: [SHARE1991_PRIV, SHARE1991_STAAT, SHARE1991_INV, SHARE1991_AUS, SHARE1991_EIN],
    realTop: 1500,
    realTicks: TICKS_REAL_1991,
  },
  {
    nominal: [NOM_PRIV, NOM_STAAT, NOM_INV, NOM_AUS, NOM_EIN],
    defl: [DEF2015_PRIV, DEF2015_STAAT, DEF2015_INV, DEF2015_AUS, DEF2015_EIN],
    real: [REAL2015_PRIV, REAL2015_STAAT, REAL2015_INV, REAL2015_AUS, REAL2015_EIN],
    share: [SHARE2015_PRIV, SHARE2015_STAAT, SHARE2015_INV, SHARE2015_AUS, SHARE2015_EIN],
    realTop: 1750,
    realTicks: TICKS_REAL_2015,
  },
];

const PANELS: Spec[] = [];
ROWS.forEach((r, row) => {
  const [n0, n1] = linExt(0, 2000);
  PANELS.push({ row, col: 0, series: r.nominal, yMin: n0, yMax: n1, yTicks: TICKS_NOMINAL });
  PANELS.push({ row, col: 1, series: r.defl, log: true, yMin: LOG_MIN, yMax: LOG_MAX, yTicks: TICKS_DEFLATOR });
  const [r0, r1] = linExt(0, r.realTop);
  PANELS.push({ row, col: 2, series: r.real, yMin: r0, yMax: r1, yTicks: r.realTicks });
  const [s0, s1] = linExt(0, 85);
  PANELS.push({ row, col: 3, series: r.share, yMin: s0, yMax: s1, yTicks: TICKS_SHARE });
});

const decorPlugin = {
  id: "decor",
  afterDatasetsDraw(chart: any, _args: any, opts: any) {
    const ctx = chart.ctx as CanvasRenderingContext2D;
    const a = chart.chartArea;
    ctx.save();
    if (opts.legend) {
      ctx.fillStyle = BG;
      ctx.fillRect(a.left + 15, a.top + 74, 148, 87);
      ctx.font = `12px ${FONT}`;
      ctx.textBaseline = "middle";
      ctx.textAlign = "left";
      SERIES_NAMES.forEach((name, i) => {
        const y = a.top + 86.5 + i * 14.6;
        ctx.strokeStyle = COLORS[i];
        ctx.lineWidth = 1.2;
        ctx.beginPath();
        ctx.moveTo(a.left + 22, y);
        ctx.lineTo(a.left + 45, y);
        ctx.stroke();
        ctx.fillStyle = "#555";
        ctx.fillText(name, a.left + 56, y);
      });
    }
    ctx.strokeStyle = "#222";
    ctx.lineWidth = 1.5;
    ctx.strokeRect(a.left, a.top, a.right - a.left, a.bottom - a.top);
    if (opts.title) {
      ctx.fillStyle = "#555";
      ctx.font = `15px ${FONT}`;
      ctx.textAlign = "center";
      ctx.textBaseline = "middle";
      ctx.fillText(opts.title, (a.left + a.right) / 2, a.top - 14);
    }
    if (opts.year) {
      ctx.fillStyle = "#000";
      ctx.font = "24px 'DejaVu Sans', sans-serif";
      ctx.textAlign = "left";
      ctx.textBaseline = "middle";
      ctx.fillText(opts.year, a.left + 25, a.top + 44);
    }
    ctx.restore();
  },
};

function Panel({ spec }: { spec: Spec }) {
  const ref = useRef<HTMLCanvasElement | null>(null);
  useEffect(() => {
    if (!ref.current) return;
    const tickFont = { family: FONT, size: 12 };
    const chart = new Chart(ref.current, {
      type: "line",
      data: {
        datasets: spec.series.map((vals, i) => ({
          label: SERIES_NAMES[i],
          data: vals.map((v, j) => ({ x: YEARS[j], y: v })),
          borderColor: COLORS[i],
          backgroundColor: COLORS[i],
          borderWidth: 1.2,
          pointRadius: 0,
          tension: 0,
          fill: false,
          order: 4 - i,
        })),
      },
      options: {
        responsive: false,
        animation: false,
        devicePixelRatio: 1,
        events: [],
        layout: { padding: { left: 0, top: PAD_T, right: PAD_R, bottom: 0 } },
        plugins: {
          legend: { display: false },
          tooltip: { enabled: false },
          decor: {
            legend: spec.row === 0 && spec.col === 0,
            title: spec.row === 0 ? COL_TITLES[spec.col] : null,
            year: spec.col === 0 ? BASE_YEARS[spec.row] : null,
          },
        } as any,
        scales: {
          x: {
            type: "linear",
            min: X_MIN,
            max: X_MAX,
            afterFit: (s: any) => {
              s.height = PAD_B;
            },
            afterBuildTicks: (s: any) => {
              s.ticks = X_TICKS.map((v) => ({ value: v }));
            },
            grid: { drawOnChartArea: false, drawTicks: true, tickLength: 8, color: "#333", lineWidth: 1 },
            border: { display: false },
            ticks: {
              autoSkip: false,
              maxRotation: 0,
              color: "#666",
              font: tickFont,
              padding: 8,
              callback: (v: any) => (X_TICK_LABELS.includes(Number(v)) ? String(v) : ""),
            },
          },
          y: {
            type: spec.log ? "logarithmic" : "linear",
            min: spec.yMin,
            max: spec.yMax,
            afterFit: (s: any) => {
              s.width = PAD_L;
            },
            afterBuildTicks: (s: any) => {
              s.ticks = spec.yTicks.map((v) => ({ value: v }));
            },
            grid: { drawOnChartArea: false, drawTicks: true, tickLength: 7, color: "#333", lineWidth: 1 },
            border: { display: false },
            ticks: {
              autoSkip: false,
              color: "#666",
              font: tickFont,
              padding: 7,
              callback: (v: any) => (spec.log ? Number(v).toFixed(1) : String(v)),
            },
          },
        } as any,
      },
      plugins: [decorPlugin as any],
    });
    return () => chart.destroy();
  }, [spec]);
  const w = BOX_W + PAD_L + PAD_R;
  const h = BOX_H + PAD_T + PAD_B;
  return (
    <canvas
      ref={ref}
      width={w}
      height={h}
      style={{
        position: "absolute",
        left: BOX_LEFT[spec.col] - PAD_L,
        top: BOX_TOP[spec.row] - PAD_T,
        width: w,
        height: h,
      }}
    />
  );
}

export default function App() {
  return (
    <div
      style={{
        position: "absolute",
        left: 0,
        top: 0,
        width: 1223,
        height: 1220,
        background: "#ffffff",
        overflow: "hidden",
      }}
    >
      <div style={{ position: "absolute", left: 7, top: 7, width: 1209, height: 1206, background: BG }} />
      {PANELS.map((p, k) => (
        <Panel key={k} spec={p} />
      ))}
    </div>
  );
}
